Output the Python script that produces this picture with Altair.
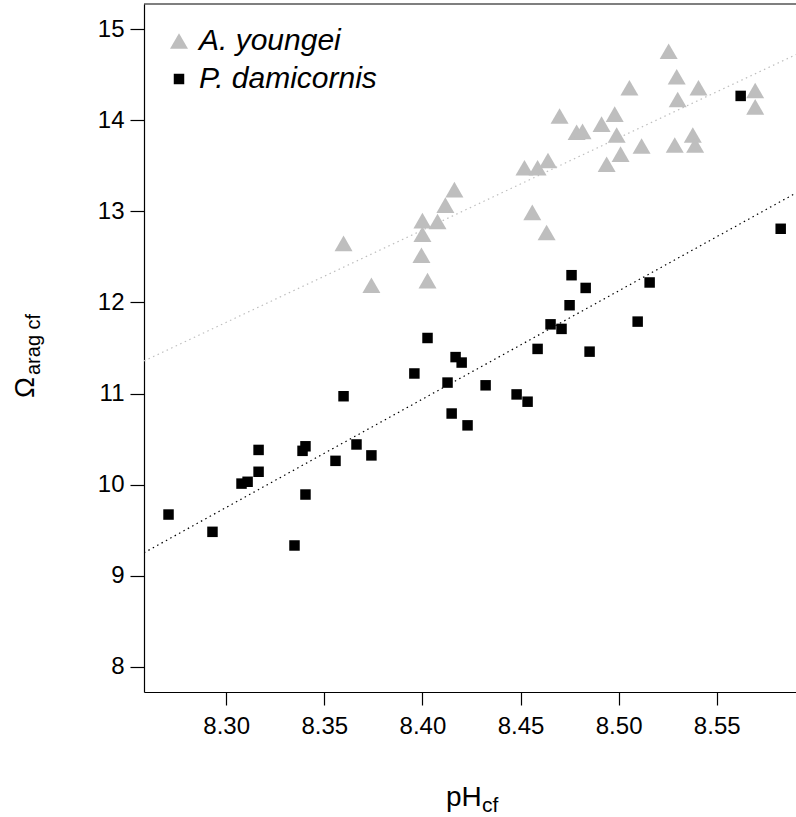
import altair as alt
import pandas as pd

species_names = ["A. youngei", "P. damicornis"]
species_colors = ["#bebebe", "#000000"]
species_shapes = ["triangle-up", "square"]

youngei_ph = [8.3598, 8.3740, 8.3995, 8.4026, 8.4000, 8.4000, 8.4077, 8.4117, 8.4163,
              8.4520, 8.4587, 8.4640, 8.4560, 8.4633, 8.4699, 8.4786, 8.4816, 8.4913,
              8.4939, 8.4980, 8.4990, 8.5010, 8.5055, 8.5117, 8.5255, 8.5286, 8.5296,
              8.5301, 8.5378, 8.5390, 8.5407, 8.5696, 8.5696]
youngei_omega = [12.65, 12.19, 12.52, 12.24, 12.75, 12.90, 12.89, 13.07, 13.24,
                 13.48, 13.48, 13.56, 12.99, 12.77, 14.05, 13.87, 13.88, 13.96,
                 13.52, 14.07, 13.84, 13.63, 14.36, 13.72, 14.76, 13.73, 14.48,
                 14.23, 13.84, 13.73, 14.36, 14.33, 14.15]

damicornis_ph = [8.2706, 8.2930, 8.3078, 8.3109, 8.3165, 8.3165, 8.3348, 8.3389, 8.3404,
                 8.3404, 8.3557, 8.3598, 8.3664, 8.3740, 8.3959, 8.4026, 8.4128, 8.4149,
                 8.4169, 8.4200, 8.4230, 8.4322, 8.4480, 8.4536, 8.4587, 8.4653, 8.4709,
                 8.4750, 8.4760, 8.4832, 8.4852, 8.5097, 8.5158, 8.5622, 8.5826]
damicornis_omega = [9.67, 9.48, 10.01, 10.03, 10.38, 10.14, 9.33, 10.37, 10.42,
                    9.89, 10.26, 10.97, 10.44, 10.32, 11.22, 11.61, 11.12, 10.78,
                    11.40, 11.34, 10.65, 11.09, 10.99, 10.91, 11.49, 11.76, 11.71,
                    11.97, 12.30, 12.16, 11.46, 11.79, 12.22, 14.27, 12.81]

x_ticks = [8.30, 8.35, 8.40, 8.45, 8.50, 8.55]
y_ticks = [8, 9, 10, 11, 12, 13, 14, 15]
x_domain = [8.2581, 8.5904]
y_domain = [7.72, 15.28]

df = pd.DataFrame({
    "species": [species_names[0]] * len(youngei_ph) + [species_names[1]] * len(damicornis_ph),
    "ph": youngei_ph + damicornis_ph,
    "omega": youngei_omega + damicornis_omega,
})

W, H = 652, 688
FONT = "Liberation Sans"

xenc = alt.X("ph:Q", scale=alt.Scale(domain=x_domain, nice=False, zero=False),
             axis=alt.Axis(values=x_ticks, format=".2f", title=None, tickSize=13,
                           labelPadding=9, labelFontSize=24))
yenc = alt.Y("omega:Q", scale=alt.Scale(domain=y_domain, nice=False, zero=False),
             axis=alt.Axis(values=y_ticks, format="d", title=None, tickSize=14,
                           labelPadding=6, labelFontSize=24))

leg = alt.Legend(title=None, orient="none", legendX=20, legendY=22, padding=0,
                 labelFontSize=30, labelFontStyle="italic", labelFont=FONT,
                 labelColor="black", labelOffset=5, rowPadding=8, labelLimit=500,
                 symbolStrokeWidth=0, labelBaseline="middle")

points = alt.Chart(df).mark_point(filled=True, opacity=1, strokeWidth=0).encode(
    x=xenc, y=yenc,
    color=alt.Color("species:N", scale=alt.Scale(domain=species_names, range=species_colors), legend=leg),
    shape=alt.Shape("species:N", scale=alt.Scale(domain=species_names, range=species_shapes), legend=leg),
    size=alt.Size("species:N", scale=alt.Scale(domain=species_names, range=[324, 110]), legend=leg),
)

def fit_line(name, color):
    return alt.Chart(df).transform_filter(
        alt.datum.species == name
    ).transform_regression("ph", "omega", extent=x_domain).mark_line(
        strokeDash=[1.5, 3.5], strokeWidth=1.2, color=color, clip=True
    ).encode(x="ph:Q", y="omega:Q")

line_a = fit_line(species_names[0], species_colors[0])
line_p = fit_line(species_names[1], species_colors[1])

top_border = alt.Chart(pd.DataFrame({"k": [0]})).mark_rule(color="black", strokeWidth=1.2).encode(
    x=alt.value(0), x2=alt.value(W), y=alt.value(0))

def label(txt, x, y, size, angle=0):
    return alt.Chart(pd.DataFrame({"t": [txt]})).mark_text(
        font=FONT, fontSize=size, align="left", baseline="alphabetic", angle=angle, color="black"
    ).encode(text="t:N", x=alt.value(x), y=alt.value(y))

xt1 = label("pH", 302, 802, 28)
xt2 = label("cf", 338, 808, 21)
yt1 = label("Ω", -110, 394, 28, 270)
yt2 = label("arag cf", -104, 371, 20, 270)

chart = alt.layer(line_a, line_p, points, top_border, xt1, xt2, yt1, yt2).properties(
    width=W, height=H,
    autosize=alt.AutoSizeParams(type="none"),
    padding={"left": 144, "top": 4, "right": 0, "bottom": 125},
    background="white",
).configure_view(stroke=None).configure_axis(
    labelFont=FONT, labelColor="black", tickColor="black", tickWidth=1.2,
    domainColor="black", domainWidth=1.2, grid=False,
)

chart.save("out.html", embed_options={"renderer": "svg", "actions": False})
